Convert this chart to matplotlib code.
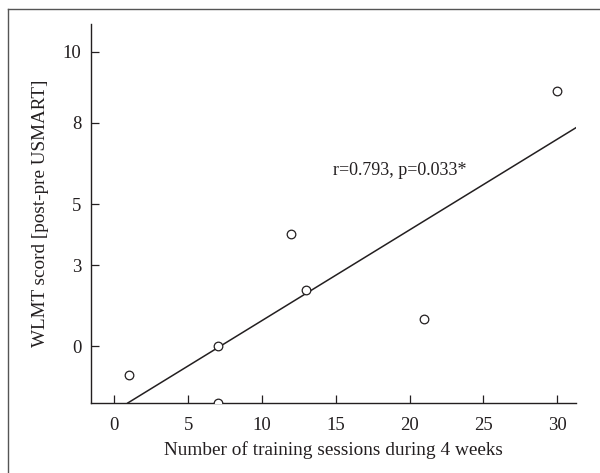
import matplotlib
matplotlib.use("Agg")
import matplotlib.pyplot as plt
from matplotlib.lines import Line2D

# Data
sessions = [1, 7, 7, 12, 13, 21, 30]
score = [-0.99, 0.0, -1.93, 3.82, 1.91, 0.93, 8.66]
fit_intercept = -2.21
fit_slope = 0.3077
fit_x = [0.91, 31.3]

xticks = [0, 5, 10, 15, 20, 25, 30]
yticks = [0, 2.75, 4.81, 7.59, 10]
yticklabels = ["0", "3", "5", "8", "10"]

plt.rcParams['font.family'] = ['Liberation Serif', 'DejaVu Serif']
txt = '#231f20'

fig = plt.figure(figsize=(6.0, 4.73), dpi=100)
ax = fig.add_axes([0.1522, 0.148, 0.9600 - 0.1522, 0.949 - 0.148])

ax.plot(fit_x, [fit_intercept + fit_slope * v for v in fit_x], color='#231f20', lw=1.1)
ax.plot(sessions, score, linestyle='none', marker='o', markersize=6.2,
        markerfacecolor='white', markeredgecolor='#231f20', markeredgewidth=0.9,
        clip_on=True, zorder=3)

ax.set_xlim(-1.56, 31.28)
ax.set_ylim(-1.93, 10.93)
ax.set_xticks(xticks)
ax.set_yticks(yticks)
ax.set_yticklabels(yticklabels)

for s in ['top', 'right']:
    ax.spines[s].set_visible(False)
for s in ['left', 'bottom']:
    ax.spines[s].set_color('#231f20')
    ax.spines[s].set_linewidth(1.0)

ax.tick_params(direction='in', length=6, width=0.9, colors='#231f20',
               labelsize=13.5, labelcolor=txt)
ax.tick_params(axis='x', pad=10)
ax.tick_params(axis='y', pad=7)

ax.set_xlabel('Number of training sessions during 4 weeks', fontsize=13.9, color=txt, labelpad=5)
ax.set_ylabel('WLMT scord [post-pre USMART]', fontsize=13.8, color=txt, labelpad=10)

ax.text(14.82, 5.80, 'r=0.793, p=0.033*', fontsize=13.0, color=txt, ha='left', va='baseline')

# outer frame (left and top edges visible)
fig.add_artist(Line2D([8.3 / 600, 8.3 / 600], [0, 1 - 9 / 473], transform=fig.transFigure,
                      color='#555555', lw=1.0))
fig.add_artist(Line2D([8.3 / 600, 1], [1 - 9 / 473, 1 - 9 / 473], transform=fig.transFigure,
                      color='#555555', lw=1.0))

fig.savefig('out.png', dpi=100)
